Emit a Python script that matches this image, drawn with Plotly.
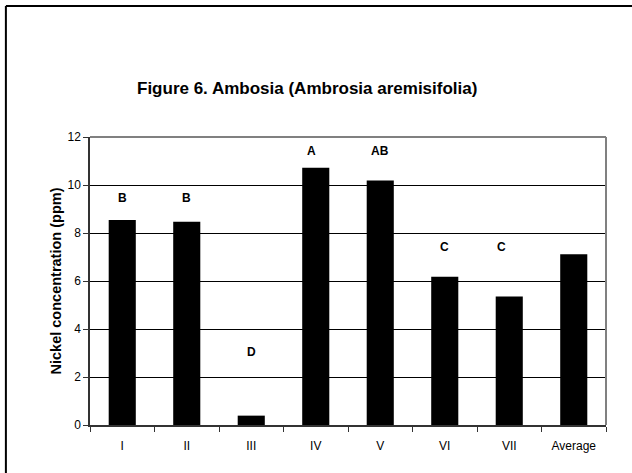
import plotly.graph_objects as go

# ---------- DATA ----------
sites = ["I", "II", "III", "IV", "V", "VI", "VII", "Average"]
nickel_ppm = [8.54, 8.47, 0.39, 10.72, 10.19, 6.18, 5.35, 7.11]
group_letters = ["B", "B", "D", "A", "AB", "C", "C", ""]
letter_y = [9.46, 9.46, 3.04, 11.42, 11.42, 7.42, 7.42, 0]

arial = "Liberation Sans, Arial, sans-serif"

fig = go.Figure()
fig.add_trace(go.Bar(x=sites, y=nickel_ppm, marker=dict(color="black", line=dict(width=0)),
                     hoverinfo="x+y"))

# significance letters above bars
for s, lab, ly in zip(sites, group_letters, letter_y):
    if not lab:
        continue
    fig.add_annotation(x=s, y=ly, text=f"<b>{lab}</b>", showarrow=False,
                       font=dict(family=arial, size=12, color="black"),
                       xshift=-8 if s == "VII" else (-4 if s == "IV" else 0))

# title
fig.add_annotation(text="<b>Figure 6. Ambosia (Ambrosia aremisifolia)</b>",
                   xref="paper", yref="paper", x=0.42, y=1.21,
                   showarrow=False, font=dict(family=arial, size=17, color="black"))

# plot-area border (gray top/right) and outer chart frame
fig.add_shape(type="line", xref="paper", yref="paper", x0=0, x1=1, y0=1, y1=1,
              line=dict(color="#808080", width=2), layer="above")
fig.add_shape(type="line", xref="paper", yref="paper", x0=1, x1=1, y0=0, y1=1,
              line=dict(color="#808080", width=2), layer="above")
fig.add_shape(type="line", xref="paper", yref="paper", x0=-0.163, x1=1.06, y0=1.455, y1=1.455,
              line=dict(color="black", width=2))
fig.add_shape(type="line", xref="paper", yref="paper", x0=-0.163, x1=-0.163, y0=-0.2, y1=1.455,
              line=dict(color="black", width=2))

fig.update_layout(
    width=632, height=473,
    margin=dict(l=90, r=26, t=137, b=48),
    paper_bgcolor="white", plot_bgcolor="white",
    showlegend=False, bargap=0.58,
    font=dict(family=arial, color="black"),
)
fig.update_xaxes(showline=True, linecolor="#333333", linewidth=1.5,
                 ticks="outside", ticklen=5, tickcolor="#333333", tickson="boundaries",
                 ticklabelstandoff=9,
                 tickfont=dict(family=arial, size=12, color="black"),
                 showgrid=False)
fig.update_yaxes(range=[0, 12], dtick=2, showline=True, linecolor="#333333", linewidth=1.5,
                 ticks="outside", ticklen=5, tickcolor="#333333",
                 showgrid=True, gridcolor="black", gridwidth=1, zeroline=False,
                 tickfont=dict(family=arial, size=12, color="black"),
                 title=dict(text="<b>Nickel concentration (ppm)</b>", standoff=2,
                            font=dict(family=arial, size=14.5, color="black")))

fig.write_html("out.html", config={"displayModeBar": False},
               post_script="document.body.style.margin='0';")
